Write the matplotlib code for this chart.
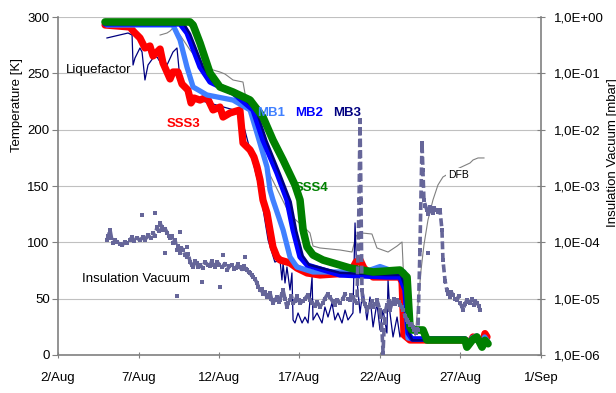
import matplotlib.pyplot as plt

plt.rcParams['font.family'] = ['Liberation Sans', 'DejaVu Sans']
plt.rcParams['font.size'] = 9.5

# x = day of August (32 = 1 Sep)
tick_days = [2, 7, 12, 17, 22, 27, 32]
tick_labels = ["2/Aug", "7/Aug", "12/Aug", "17/Aug", "22/Aug", "27/Aug", "1/Sep"]
vac_ticks = [1e-6, 1e-5, 1e-4, 1e-3, 1e-2, 1e-1, 1e0]
vac_labels = ["1,0E-06", "1,0E-05", "1,0E-04", "1,0E-03", "1,0E-02", "1,0E-01", "1,0E+00"]

sss3_day = [4.92, 6.47, 6.66, 7.09, 7.40, 7.71, 7.90, 8.34, 8.52, 8.96, 9.14, 9.45, 9.70,
            10.07, 10.26, 10.45, 10.82, 11.25, 11.63, 12.06, 12.25, 12.68, 13.30, 13.49,
            13.93, 14.17, 14.36, 14.55, 14.73, 14.98, 15.35, 15.60, 15.79, 16.41, 16.84,
            17.47, 18.27, 20.14, 20.51, 20.76, 21.0, 21.57, 23.24, 23.37, 23.49, 23.86,
            27.28, 27.5, 27.78, 28.0, 28.34, 28.52, 28.65]
sss3_temp = [292.9, 291.1, 287.6, 281.4, 272.5, 274.3, 265.4, 271.6, 259.2, 245.0, 251.2,
             251.2, 240.5, 235.2, 223.7, 228.1, 226.3, 229.0, 217.5, 220.1, 211.2, 214.8,
             217.5, 188.2, 182.0, 175.7, 166.9, 155.3, 137.6, 126.0, 95.9, 87.0, 84.3, 81.7,
             77.2, 72.8, 71.0, 72.8, 82.5, 84.3, 77.2, 69.2, 69.2, 64.8, 17.8, 13.3,
             13.3, 9.0, 16.0, 15.0, 10.0, 19.0, 16.0]

mb1_day = [5.04, 9.14, 9.58, 10.01, 10.39, 11.25, 12.87, 13.93, 14.36, 14.98, 15.17, 15.35,
           15.98, 16.41, 16.84, 17.84, 19.52, 21.38, 22.0, 22.62, 23.24, 23.49, 23.62, 23.74,
           24.17, 27.28, 27.45, 27.7, 28.0, 28.3, 28.5, 28.7]
mb1_temp = [292.9, 292.9, 279.6, 255.6, 237.9, 230.8, 226.3, 217.5, 197.0, 166.9, 146.5,
            137.6, 111.0, 87.0, 78.1, 73.7, 73.7, 75.4, 78.5, 75.4, 74.5, 73.7, 48.8, 15.1,
            14.2, 14.2, 8.0, 15.0, 17.0, 9.0, 16.0, 12.0]

mb2_day = [4.92, 9.58, 10.01, 10.82, 11.44, 12.87, 14.11, 14.73, 15.60, 16.22, 16.60, 17.03,
           17.47, 19.52, 22.43, 23.24, 23.55, 23.74, 23.99, 27.28, 27.4, 27.7, 28.0, 28.34,
           28.52, 28.7]
mb2_temp = [293.8, 293.8, 285.8, 255.6, 242.3, 232.5, 217.5, 190.8, 161.5, 137.6, 111.0,
            87.0, 79.9, 71.0, 69.2, 69.2, 57.7, 19.5, 14.2, 14.2, 9.0, 14.0, 16.0, 8.0,
            13.0, 10.0]

mb3_day = [4.92, 9.8, 10.2, 11.0, 11.6, 13.0, 14.3, 14.95, 15.8, 16.45, 16.8, 17.2, 17.6,
           19.5, 22.4, 23.3, 23.62, 23.8, 24.0, 27.3, 27.5, 27.8, 28.0, 28.4, 28.6]
mb3_temp = [294.5, 294.5, 285.0, 256.0, 243.0, 234.0, 218.0, 190.0, 160.0, 136.0, 110.0,
            88.0, 80.0, 73.0, 71.0, 71.0, 58.0, 20.0, 13.0, 13.0, 9.0, 13.0, 14.0, 8.0, 12.0]

sss4_day = [4.92, 10.20, 10.39, 10.82, 11.44, 12.06, 12.87, 13.93, 14.73, 15.35, 15.98, 16.72,
            17.03, 17.22, 17.47, 17.84, 18.46, 20.14, 21.57, 23.24, 23.68, 23.86, 23.99,
            24.67, 24.92, 27.28, 27.4, 27.78, 28.02, 28.34, 28.52, 28.71]
sss4_temp = [295.6, 295.6, 292.9, 276.9, 250.3, 237.9, 233.4, 226.3, 211.2, 190.8, 173.1,
             150.9, 137.6, 111.0, 95.9, 88.8, 84.3, 77.2, 73.7, 75.4, 69.2, 24.9, 22.2,
             22.2, 13.3, 13.3, 7.0, 14.0, 16.0, 7.0, 13.0, 10.0]

liq_day = [5.04, 6.35, 6.60, 6.66, 6.78, 7.09, 7.22, 7.40, 7.59, 7.90, 8.15, 8.46, 8.77,
           9.14, 9.39, 9.58, 10.2, 10.82, 13.3, 13.93, 14.55, 15.05, 15.47, 15.79, 15.91,
           15.98, 16.10, 16.22, 16.41, 16.53, 16.60, 16.72, 16.91, 17.16, 17.34, 17.53,
           17.78, 17.84, 18.09, 18.40, 18.58, 18.77, 19.02, 19.20, 19.39, 19.64, 19.83,
           20.01, 20.32, 20.45, 20.57, 20.76, 20.94, 21.19, 21.38, 21.57, 21.81, 22.00,
           22.19, 22.43, 22.50, 22.62, 22.81, 23.06, 23.24, 23.43, 23.68, 24.30, 24.7]
liq_temp = [281.4, 285.8, 284.0, 257.4, 263.6, 272.5, 268.9, 244.1, 257.4, 263.6, 264.5,
            257.4, 257.4, 268.9, 272.5, 244.0, 226.0, 226.0, 216.0, 182.0, 146.0, 102.0,
            82.5, 84.3, 66.6, 81.7, 63.9, 78.1, 57.7, 72.8, 31.1, 28.4, 37.3, 28.4, 33.7,
            28.4, 69.2, 31.1, 37.3, 28.4, 42.6, 33.7, 46.2, 31.1, 37.3, 28.4, 39.9, 31.1,
            37.3, 117.2, 66.6, 37.3, 57.7, 31.1, 51.5, 24.9, 46.2, 22.2, 39.9, 19.5, 66.6,
            37.3, 16.0, 33.7, 16.0, 24.9, 13.3, 11.5, 11.5]

dfb_day = [8.34, 8.77, 8.96, 9.14, 9.58, 10.20, 10.82, 11.63, 12.06, 12.37, 12.87, 13.49,
           13.61, 14.24, 15.17, 16.41, 17.34, 17.65, 17.84, 18.27, 19.52, 20.26, 20.51,
           20.88, 21.50, 21.81, 22.50, 23.06, 23.37, 23.49, 23.74, 24.17, 24.36, 24.55,
           24.73, 24.98, 25.29, 25.60, 25.91, 26.66, 27.59, 27.78, 28.09, 28.46]
dfb_temp = [284.0, 285.8, 287.6, 290.2, 284.0, 270.7, 260.1, 253.0, 251.2, 249.4, 244.1,
            242.3, 232.5, 204.2, 159.8, 124.3, 112.7, 108.3, 96.7, 95.0, 93.2, 91.4, 105.6,
            108.3, 107.4, 95.0, 91.4, 96.7, 100.3, 62.1, 17.8, 15.1, 44.4, 75.4, 97.6,
            119.8, 137.6, 150.9, 158.0, 164.2, 170.4, 173.1, 174.9, 174.9]

vac_day = [5.04, 5.13, 5.23, 5.32, 5.42, 5.54, 5.66, 5.82, 5.98, 6.14, 6.29, 6.45, 6.60,
           6.75, 6.91, 7.10, 7.28, 7.43, 7.59, 7.75, 7.90, 8.02, 8.15, 8.25, 8.34, 8.43,
           8.52, 8.65, 8.77, 8.87, 8.96, 9.05, 9.14, 9.27, 9.39, 9.48, 9.58, 9.67, 9.76,
           9.88, 10.01, 10.10, 10.20, 10.30, 10.39, 10.51, 10.63, 10.72, 10.82, 10.98,
           11.13, 11.29, 11.44, 11.54, 11.63, 11.75, 11.88, 12.03, 12.19, 12.35, 12.50,
           12.65, 12.81, 12.93, 13.05, 13.17, 13.30, 13.42, 13.55, 13.65, 13.74, 13.84,
           13.93, 14.02, 14.11, 14.24, 14.36, 14.45, 14.55, 14.64, 14.73, 14.86, 14.98,
           15.08, 15.17, 15.26, 15.35, 15.48, 15.60, 15.70, 15.79, 15.89, 15.98, 16.10,
           16.22, 16.31, 16.41, 16.50, 16.60, 16.72, 16.84, 16.94, 17.03, 17.19, 17.34,
           17.50, 17.65, 17.80, 17.96, 18.11, 18.27, 18.43, 18.58, 18.74, 18.89, 19.05,
           19.20, 19.36, 19.52, 19.68, 19.83, 19.99, 20.14, 20.23, 20.32, 20.45, 20.57,
           20.70, 20.76, 20.82, 20.88, 20.94, 21.06, 21.19, 21.29, 21.38, 21.48, 21.57,
           21.69, 21.81, 21.90, 22.00, 22.12, 22.19, 22.25, 22.34, 22.43, 22.53, 22.62,
           22.75, 22.87, 22.96, 23.06, 23.15, 23.24, 23.34, 23.43, 23.55, 23.68, 23.77,
           23.86, 23.95, 24.05, 24.14, 24.24, 24.30, 24.36, 24.48, 24.61, 24.67, 24.73,
           24.82, 24.92, 25.01, 25.11, 25.20, 25.29, 25.38, 25.48, 25.60, 25.73, 25.85,
           25.91, 26.04, 26.16, 26.25, 26.35, 26.44, 26.53, 26.66, 26.78, 26.88, 26.97,
           27.07, 27.16, 27.28, 27.40, 27.50, 27.59, 27.72, 27.84, 27.93, 28.02, 28.12,
           28.21]
vac_mbar = [1.1e-4, 1.3e-4, 1.66e-4, 1.2e-4, 9.8e-5, 1.08e-4, 1.02e-4, 9.5e-5, 8.9e-5,
            1.0e-4, 9.8e-5, 1.1e-4, 1.23e-4, 1.05e-4, 1.18e-4, 1.1e-4, 1.23e-4, 1.12e-4,
            1.35e-4, 1.2e-4, 1.48e-4, 1.3e-4, 1.86e-4, 1.6e-4, 2.19e-4, 1.9e-4, 1.66e-4,
            1.75e-4, 1.48e-4, 1.3e-4, 1.18e-4, 1.3e-4, 9.8e-5, 1.1e-4, 7.3e-5, 8.5e-5,
            6.5e-5, 8.0e-5, 7.3e-5, 6.0e-5, 5.5e-5, 6.2e-5, 4.5e-5, 4.0e-5, 3.6e-5, 4.6e-5,
            4.3e-5, 3.7e-5, 4.0e-5, 3.5e-5, 4.5e-5, 4.0e-5, 3.8e-5, 4.6e-5, 4.0e-5, 3.6e-5,
            4.5e-5, 4.0e-5, 3.6e-5, 4.2e-5, 3.2e-5, 3.8e-5, 4.0e-5, 3.4e-5, 3.5e-5, 4.1e-5,
            3.6e-5, 3.3e-5, 3.8e-5, 3.4e-5, 3.2e-5, 3.0e-5, 2.9e-5, 2.6e-5, 2.4e-5, 2.2e-5,
            1.9e-5, 1.6e-5, 1.4e-5, 1.5e-5, 1.2e-5, 1.3e-5, 1.07e-5, 1.15e-5, 1.26e-5,
            1.0e-5, 8.3e-6, 9.5e-6, 1.07e-5, 8.8e-6, 9.5e-6, 1.2e-5, 1.4e-5, 1.0e-5, 7.1e-6,
            8.5e-6, 9.5e-6, 1.1e-5, 8.3e-6, 9.0e-6, 1.1e-5, 9.5e-6, 8.3e-6, 9.0e-6, 1.0e-5,
            1.15e-5, 9.5e-6, 8.5e-6, 7.5e-6, 8.8e-6, 7.1e-6, 8.5e-6, 1.0e-5, 1.2e-5,
            1.07e-5, 9.0e-6, 7.8e-6, 9.5e-6, 8.3e-6, 9.8e-6, 1.2e-5, 1.0e-5, 9.5e-6,
            1.15e-5, 1.07e-5, 9.0e-6, 8.3e-6, 5.6e-4, 1.5e-2, 5.6e-4, 1.4e-5, 9.5e-6,
            8.0e-6, 6.3e-6, 7.0e-6, 7.8e-6, 9.0e-6, 7.1e-6, 8.2e-6, 9.5e-6, 7.8e-6, 6.3e-6,
            2.8e-6, 1.1e-6, 2.8e-6, 6.0e-6, 7.8e-6, 9.0e-6, 6.3e-6, 8.5e-6, 1.0e-5, 8.2e-6,
            9.5e-6, 8.8e-6, 7.8e-6, 7.2e-6, 6.3e-6, 5.0e-6, 4.2e-6, 3.8e-6, 3.4e-6, 3.6e-6,
            3.2e-6, 2.8e-6, 2.5e-6, 2.9e-6, 2.8e-6, 7.3e-5, 5.8e-3, 1.9e-3, 5.6e-4, 4.5e-4,
            3.7e-4, 3.2e-4, 4.2e-4, 3.6e-4, 3.3e-4, 4.0e-4, 3.7e-4, 3.4e-4, 3.7e-4, 1.66e-4,
            4.9e-5, 2.1e-5, 1.4e-5, 1.2e-5, 1.07e-5, 1.3e-5, 1.15e-5, 1.0e-5, 9.5e-6,
            1.1e-5, 8.3e-6, 7.5e-6, 6.3e-6, 8.0e-6, 9.5e-6, 8.8e-6, 8.3e-6, 9.8e-6, 7.8e-6,
            9.0e-6, 8.3e-6, 7.4e-6, 6.3e-6]

vac_out_day = [7.22, 8.02, 8.65, 9.39, 9.58, 10.01, 10.94, 12.06, 12.25, 13.61, 24.98]
vac_out_mbar = [3.0e-4, 3.3e-4, 6.5e-5, 1.1e-5, 1.5e-4, 8.1e-5, 2.0e-5, 1.6e-5, 5.9e-5,
                5.5e-5, 6.4e-5]

axis_grey = '#808080'
vac_col = '#666699'

fig = plt.figure(figsize=(6.16, 3.93), dpi=100)
ax = fig.add_axes([0.0942, 0.0967, 0.784, 0.86])

thick = dict(solid_joinstyle='round', solid_capstyle='round')
ax.plot(dfb_day, dfb_temp, color='#808080', lw=0.8, zorder=2)
ax.plot(liq_day, liq_temp, color='#000080', lw=0.9, zorder=2)
ax.plot(sss3_day, sss3_temp, color='#ff0000', lw=5.2, zorder=3, **thick)
ax.plot(mb1_day, mb1_temp, color='#4080ff', lw=3.8, zorder=4, **thick)
ax.plot(mb2_day, mb2_temp, color='#0000ff', lw=3.8, zorder=5, **thick)
ax.plot(mb3_day, mb3_temp, color='#000080', lw=1.8, zorder=6, **thick)
ax.plot(sss4_day, sss4_temp, color='#008000', lw=5.5, zorder=7, **thick)

ax.set_xlim(2, 32)
ax.set_ylim(0, 300)
ax.set_xticks(tick_days)
ax.set_xticklabels(tick_labels)
ax.set_yticks(range(0, 301, 50))
ax.yaxis.grid(True, color='#c0c0c0', lw=0.8)
ax.set_axisbelow(True)
ax.tick_params(axis='x', direction='inout', length=5, color=axis_grey, pad=10)
ax.tick_params(axis='y', direction='out', length=4, color=axis_grey, pad=2)
for s in ['left', 'bottom']:
    ax.spines[s].set_color(axis_grey)
    ax.spines[s].set_linewidth(1.2)
ax.spines['top'].set_visible(False)
ax.spines['right'].set_visible(False)
ax.set_ylabel("Temperature [K]")
ax.yaxis.set_label_coords(-0.072, 0.74)

ax2 = ax.twinx()
ax2.set_yscale('log')
ax2.plot(vac_day, vac_mbar, color=vac_col, lw=2.6, dashes=(2.2, 1.0),
         marker='s', ms=3.0, mew=0)
ax2.plot(vac_out_day, vac_out_mbar, 's', color=vac_col, ms=3.5, mew=0)
ax2.set_ylim(1e-6, 1)
ax2.set_yticks(vac_ticks)
ax2.set_yticklabels(vac_labels)
ax2.minorticks_off()
ax2.tick_params(axis='y', direction='inout', length=6, color=axis_grey, pad=6)
for s in ['top', 'left', 'bottom']:
    ax2.spines[s].set_visible(False)
ax2.spines['right'].set_color(axis_grey)
ax2.spines['right'].set_linewidth(1.2)
ax2.set_ylabel("Insulation Vacuum [mbar]")
ax2.yaxis.set_label_coords(1.137, 0.6)

lbl = dict(fontsize=9.5, zorder=10)
ax2.text(2.5, 250, "Liquefactor", transform=ax.transData, **lbl)
ax2.text(8.75, 202, "SSS3", color='#ff0000', fontweight='bold', transform=ax.transData, **lbl)
ax2.text(14.35, 212, "MB1", color='#4080ff', fontweight='bold', transform=ax.transData, **lbl)
ax2.text(16.7, 212, "MB2", color='#0000ff', fontweight='bold', transform=ax.transData, **lbl)
ax2.text(19.1, 212, "MB3", color='#000080', fontweight='bold', transform=ax.transData, **lbl)
ax2.text(16.72, 146, "SSS4", color='#008000', fontweight='bold', transform=ax.transData, **lbl)
ax2.text(3.49, 65, "Insulation Vacuum", transform=ax.transData, **lbl)
ax2.text(26.85, 160, "DFB", fontsize=7.5, ha='center', va='center', transform=ax.transData,
         bbox=dict(facecolor='white', edgecolor='none', pad=1.5), zorder=10)

fig.savefig("out.png", dpi=100)
